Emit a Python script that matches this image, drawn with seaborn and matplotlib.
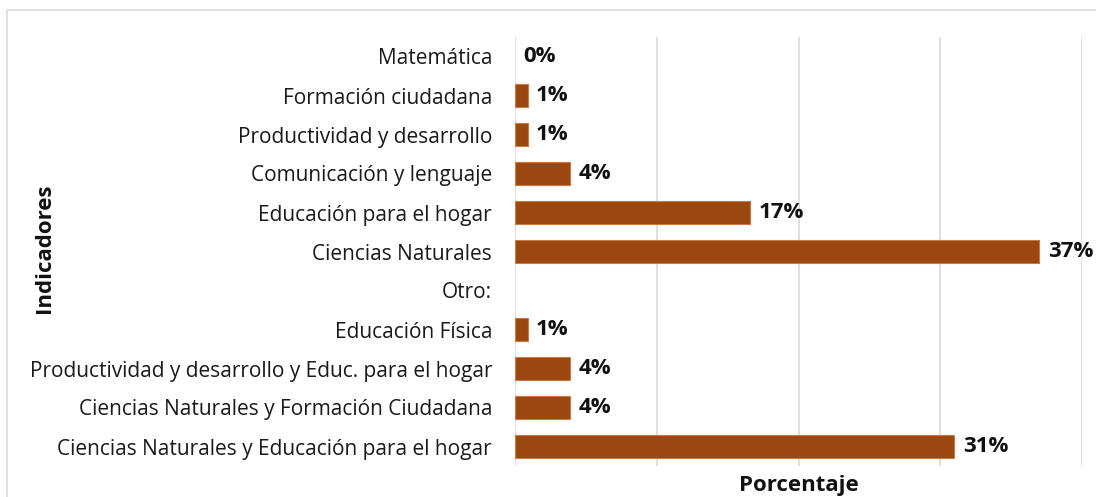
import matplotlib
matplotlib.use("Agg")
import matplotlib.pyplot as plt
import seaborn as sns
import pandas as pd
from matplotlib.patches import Rectangle

categories = [
    "Matemática",
    "Formación ciudadana",
    "Productividad y desarrollo",
    "Comunicación y lenguaje",
    "Educación para el hogar",
    "Ciencias Naturales",
    "Otro:",
    "Educación Física",
    "Productividad y desarrollo y Educ. para el hogar",
    "Ciencias Naturales y Formación Ciudadana",
    "Ciencias Naturales y Educación para el hogar",
]
values = [0.0, 0.009, 0.009, 0.039, 0.166, 0.37, None, 0.009, 0.039, 0.039, 0.31]
x_ticks = [0.0, 0.1, 0.2, 0.3, 0.4]

sns.set_theme(style="white")
plt.rcParams["font.family"] = ["Open Sans", "DejaVu Sans"]

df = pd.DataFrame({"cat": categories, "val": [v if v is not None else 0.0 for v in values]})

fig = plt.figure(figsize=(10.96, 4.97), dpi=100)
ax = fig.add_axes([515 / 1096, 1 - 466 / 497, (1082 - 515) / 1096, (466 - 37) / 497])

sns.barplot(data=df, x="val", y="cat", orient="h", color="#9C4710", saturation=1,
            width=0.57, edgecolor="none", linewidth=0, ax=ax)
for p in ax.patches:
    if p.get_width() > 0:
        p.set_edgecolor("#C77A45")
        p.set_linewidth(0.8)

ax.set_xlim(0, 0.4)
ax.set_xticks(x_ticks)
ax.set_xticklabels([])
ax.tick_params(axis="x", length=0)
ax.tick_params(axis="y", length=0, labelsize=15, pad=16.5, labelcolor="#1a1a1a")
ax.grid(axis="x", color="#D9D9D9", linewidth=1.2)
ax.set_axisbelow(True)
for s in ax.spines.values():
    s.set_visible(False)

for i, v in enumerate(values):
    if v is None:
        continue
    ax.annotate(f"{round(v * 100):.0f}%", xy=(v, i), xytext=(6, 0), textcoords="offset points",
                ha="left", va="center", fontsize=16, fontweight="bold", color="#111111")

ax.set_xlabel("Porcentaje", fontsize=16, fontweight="bold", labelpad=3, color="#111111")
ax.set_ylabel("")
fig.text(45 / 1096, 1 - 248 / 497, "Indicadores", rotation=90, ha="center", va="center",
         fontsize=16, fontweight="bold", color="#111111")

fig.patches.append(Rectangle((7 / 1096, -0.05), 1.1, 1 - 10 / 497 + 0.05, transform=fig.transFigure,
                             fill=False, edgecolor="#D9D9D9", linewidth=1.2))

fig.savefig("out.png", dpi=100)
